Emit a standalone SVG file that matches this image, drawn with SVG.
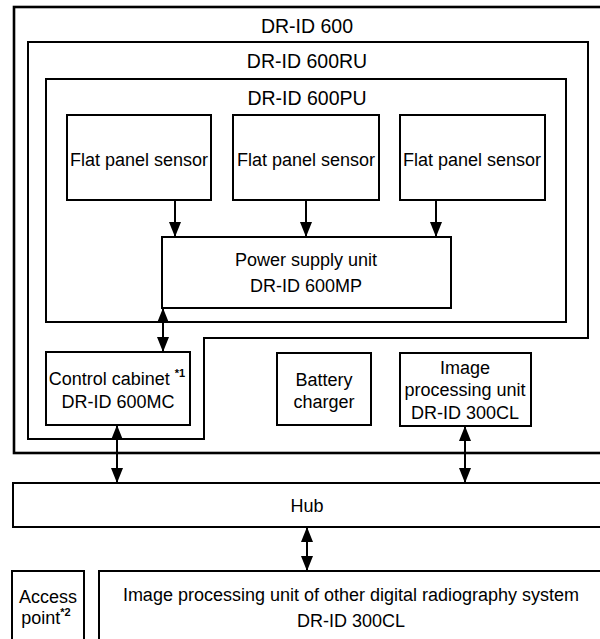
<svg xmlns="http://www.w3.org/2000/svg" width="600" height="639" viewBox="0 0 600 639">
<defs>
<style>
.box{fill:#fff;stroke:#000;stroke-width:2}
.frame{fill:none;stroke:#000;stroke-width:2}
.outer{fill:none;stroke:#000;stroke-width:2.6}
text{font-family:"Liberation Sans",Arial,Helvetica,sans-serif;font-size:18px;fill:#000;text-anchor:middle}
.title{font-size:19.5px}
.sup{font-size:11px;font-weight:bold}
.conn{stroke:#000;stroke-width:2;fill:none}
</style>
<marker id="ah" viewBox="0 0 15 12" refX="15" refY="6" markerWidth="15" markerHeight="12" markerUnits="userSpaceOnUse" orient="auto-start-reverse">
<path d="M0,0 L15,6 L0,12 z" fill="#000"/>
</marker>
</defs>
<rect width="600" height="639" fill="#fff"/>

<g id="dr-id-600">
<rect class="outer" x="14" y="7" width="600" height="446"/>
<text class="title" x="307" y="33">DR-ID 600</text>
</g>
<g id="dr-id-600ru">
<polygon class="frame" points="28,42 588,42 588,338 204,338 204,439 28,439"/>
<text class="title" x="307" y="68">DR-ID 600RU</text>
</g>
<g id="dr-id-600pu">
<rect class="frame" x="46" y="79" width="520" height="243"/>
<text class="title" x="307" y="105">DR-ID 600PU</text>
</g>
<g id="sensor1">
<rect class="box" x="67" y="115" width="144" height="85"/>
<text x="139" y="166">Flat panel sensor</text>
</g>
<g id="sensor2">
<rect class="box" x="233" y="115" width="146" height="85"/>
<text x="306" y="166">Flat panel sensor</text>
</g>
<g id="sensor3">
<rect class="box" x="400" y="115" width="145" height="85"/>
<text x="472" y="166">Flat panel sensor</text>
</g>
<g id="psu">
<rect class="box" x="162" y="237" width="289" height="71"/>
<text x="306" y="266">Power supply unit</text>
<text x="306" y="292">DR-ID 600MP</text>
</g>
<g id="control-cabinet">
<rect class="box" x="46" y="352" width="144" height="73"/>
<text x="117" y="385">Control cabinet <tspan class="sup" dy="-8">*1</tspan></text>
<text x="118" y="408">DR-ID 600MC</text>
</g>
<g id="battery-charger">
<rect class="box" x="277" y="353" width="94" height="72"/>
<text x="324" y="386">Battery</text>
<text x="324" y="408">charger</text>
</g>
<g id="image-processing-unit">
<rect class="box" x="400" y="353" width="131" height="73"/>
<text x="465" y="374">Image</text>
<text x="465" y="396">processing unit</text>
<text x="465" y="419">DR-ID 300CL</text>
</g>
<g id="hub">
<rect class="box" x="13" y="483" width="600" height="44"/>
<text x="307" y="512">Hub</text>
</g>
<g id="access-point">
<rect class="box" x="12" y="571" width="72" height="80"/>
<text x="48" y="603">Access</text>
<text x="46" y="624">point<tspan class="sup" dy="-8">*2</tspan></text>
</g>
<g id="other-ipu">
<rect class="box" x="99" y="571" width="520" height="80"/>
<text x="351" y="601">Image processing unit of other digital radiography system</text>
<text x="351" y="627">DR-ID 300CL</text>
</g>

<g id="connectors">
<line class="conn" x1="175" y1="200" x2="175" y2="237" marker-end="url(#ah)"/>
<line class="conn" x1="306" y1="200" x2="306" y2="237" marker-end="url(#ah)"/>
<line class="conn" x1="436" y1="200" x2="436" y2="237" marker-end="url(#ah)"/>
<line class="conn" x1="163" y1="308" x2="163" y2="352" marker-start="url(#ah)" marker-end="url(#ah)"/>
<line class="conn" x1="117" y1="425" x2="117" y2="483" marker-start="url(#ah)" marker-end="url(#ah)"/>
<line class="conn" x1="465" y1="426" x2="465" y2="483" marker-start="url(#ah)" marker-end="url(#ah)"/>
<line class="conn" x1="307" y1="527" x2="307" y2="571" marker-start="url(#ah)" marker-end="url(#ah)"/>
</g>
</svg>
